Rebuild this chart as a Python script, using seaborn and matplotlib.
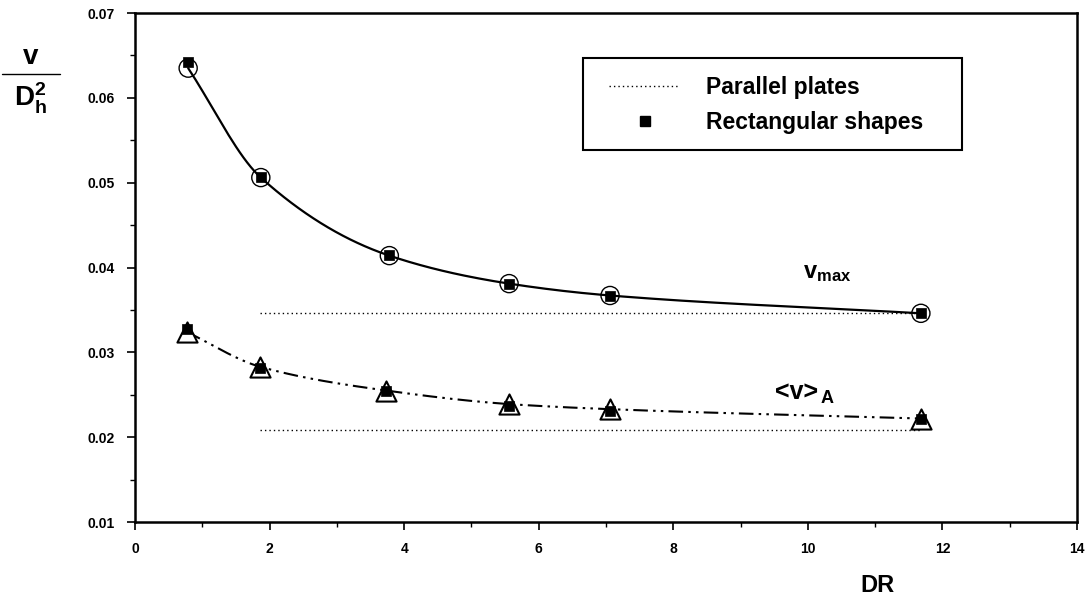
import numpy as np
import pandas as pd
import matplotlib
matplotlib.use("Agg")
import matplotlib.pyplot as plt
from matplotlib.lines import Line2D
from matplotlib.patches import Rectangle
from matplotlib.ticker import MultipleLocator, FormatStrFormatter
import seaborn as sns

# ---- data ----
dr_vmax = [0.79, 1.87, 3.78, 5.56, 7.06, 11.68]
vmax_circle = [0.0635, 0.0506, 0.0414, 0.0381, 0.0367, 0.0346]
vmax_square = [0.0642, 0.0507, 0.0415, 0.0381, 0.0366, 0.0346]

dr_avg = [0.77, 1.86, 3.73, 5.56, 7.06, 11.68]
avg_triangle = [0.0324, 0.0283, 0.0255, 0.0239, 0.0233, 0.0222]
avg_square = [0.0327, 0.0281, 0.0254, 0.0237, 0.0231, 0.0221]

plates_dr = [1.86, 11.68]
plates_vmax = [0.0346, 0.0346]
plates_avg = [0.0208, 0.0208]

x_ticks = [0, 2, 4, 6, 8, 10, 12, 14]
y_ticks = [0.01, 0.02, 0.03, 0.04, 0.05, 0.06, 0.07]
legend_labels = ["Parallel plates", "Rectangular shapes"]


def smooth(x, y, n=200):
    """Monotone cubic Hermite curve through the points (for drawing only)."""
    x = np.asarray(x, float); y = np.asarray(y, float)
    h = np.diff(x); d = np.diff(y) / h
    m = np.zeros_like(x)
    m[0], m[-1] = d[0], d[-1]
    for i in range(1, len(x) - 1):
        if d[i - 1] * d[i] > 0:
            w1 = 2 * h[i] + h[i - 1]; w2 = h[i] + 2 * h[i - 1]
            m[i] = (w1 + w2) / (w1 / d[i - 1] + w2 / d[i])
    xs = np.linspace(x[0], x[-1], n)
    idx = np.clip(np.searchsorted(x, xs) - 1, 0, len(x) - 2)
    t = (xs - x[idx]) / h[idx]
    h00 = 2 * t**3 - 3 * t**2 + 1; h10 = t**3 - 2 * t**2 + t
    h01 = -2 * t**3 + 3 * t**2; h11 = t**3 - t**2
    ys = h00 * y[idx] + h10 * h[idx] * m[idx] + h01 * y[idx + 1] + h11 * h[idx] * m[idx + 1]
    return xs, ys


sns.set_theme(style="ticks")
plt.rcParams["font.family"] = ["Liberation Sans", "DejaVu Sans"]
plt.rcParams["mathtext.fontset"] = "custom"
plt.rcParams["mathtext.rm"] = "Liberation Sans"
plt.rcParams["mathtext.it"] = "Liberation Sans"
plt.rcParams["mathtext.bf"] = "Liberation Sans:bold"
for k in ["text.color", "axes.labelcolor", "xtick.color", "ytick.color", "axes.edgecolor"]:
    plt.rcParams[k] = "black"

W, H = 1090, 597
fig = plt.figure(figsize=(W / 100, H / 100), dpi=100)
ax = fig.add_axes([135 / W, 1 - 522 / H, (1077 - 135) / W, (522 - 13) / H])

# smooth curves
sx, sy = smooth(dr_vmax, vmax_circle)
sns.lineplot(x=sx, y=sy, ax=ax, color="black", lw=1.6, sort=False)
ax2x, ax2y = smooth(dr_avg, avg_triangle)
sns.lineplot(x=ax2x, y=ax2y, ax=ax, color="black", lw=1.5, sort=False)
ax.lines[-1].set_linestyle((0, (7, 2.5, 1.2, 2.5, 1.2, 2.5)))

# parallel plates
for yy in (plates_vmax, plates_avg):
    sns.lineplot(x=plates_dr, y=yy, ax=ax, color="black", lw=1.0)
    ax.lines[-1].set_linestyle((0, (1, 2.2)))

# markers
sns.scatterplot(x=dr_vmax, y=vmax_circle, ax=ax, marker="o", s=170,
                facecolor="none", edgecolor="black", linewidth=1.0, zorder=4)
sns.scatterplot(x=dr_avg, y=avg_triangle, ax=ax, marker="^", s=210,
                facecolor="white", edgecolor="black", linewidth=1.5, zorder=4)
sns.scatterplot(x=dr_vmax, y=vmax_square, ax=ax, marker="s", s=45,
                color="black", edgecolor="black", linewidth=0.5, zorder=5)
sns.scatterplot(x=dr_avg, y=avg_square, ax=ax, marker="s", s=45,
                color="black", edgecolor="black", linewidth=0.5, zorder=5)

ax.set_xlim(0, 14)
ax.set_ylim(0.01, 0.07)
ax.set_xticks(x_ticks)
ax.set_yticks(y_ticks)
ax.xaxis.set_minor_locator(MultipleLocator(1))
ax.yaxis.set_minor_locator(MultipleLocator(0.005))
ax.yaxis.set_major_formatter(FormatStrFormatter("%.2f"))
ax.tick_params(which="major", length=6, width=1.2, direction="out", labelsize=10, pad=8.5, color="black")
ax.tick_params(which="minor", length=3.5, width=1.0, direction="out", color="black")
for lab in ax.get_xticklabels() + ax.get_yticklabels():
    lab.set_fontweight("bold")
for sp in ax.spines.values():
    sp.set_visible(True)
    sp.set_color("black")
    sp.set_linewidth(1.8)
ax.set_xlabel("")
ax.set_ylabel("")

# axis labels
fig.text(877 / W, 1 - 585 / H, "DR", fontsize=17, fontweight="bold",
         ha="center", va="center")
fig.text(31 / W, 1 - 57 / H, "v", fontsize=20, fontweight="bold", ha="center", va="center")
fig.add_artist(Line2D([2 / W, 60 / W], [1 - 74 / H, 1 - 74 / H],
                      color="black", lw=1.0, transform=fig.transFigure))
fig.text(31 / W, 1 - 98 / H, r"$\mathbf{D}_{\mathbf{h}}^{\mathbf{2}}$",
         fontsize=20, ha="center", va="center")

# curve annotations
ax.text(9.93, 0.0393, r"$\mathbf{v}_{\mathbf{max}}$", fontsize=17, ha="left", va="center")
t_avg = ax.text(9.51, 0.0253, "<v>", fontsize=18, fontweight="bold", ha="left", va="center")
ax.annotate("A", xy=(1, 0.22), xycoords=t_avg, xytext=(1.5, 0), textcoords="offset points",
            fontsize=13, fontweight="bold", ha="left", va="center")

# legend
handles = [Line2D([], [], color="black", lw=1.0, linestyle=(0, (1, 2.2))),
           Line2D([], [], color="black", marker="s", markersize=6.5, lw=0)]
leg = fig.legend(handles, legend_labels,
                 loc="upper left", bbox_to_anchor=(609 / W, 1 - 76 / H),
                 prop={"size": 16.5, "weight": "bold"}, frameon=False,
                 handlelength=3.1, handletextpad=1.14, borderpad=0,
                 labelspacing=0.52, borderaxespad=0)
fig.add_artist(Rectangle((583 / W, 1 - 150 / H), (962 - 583) / W, (150 - 58) / H,
                         transform=fig.transFigure, fill=False, edgecolor="black", lw=1.5))

fig.savefig("out.png", dpi=100)
